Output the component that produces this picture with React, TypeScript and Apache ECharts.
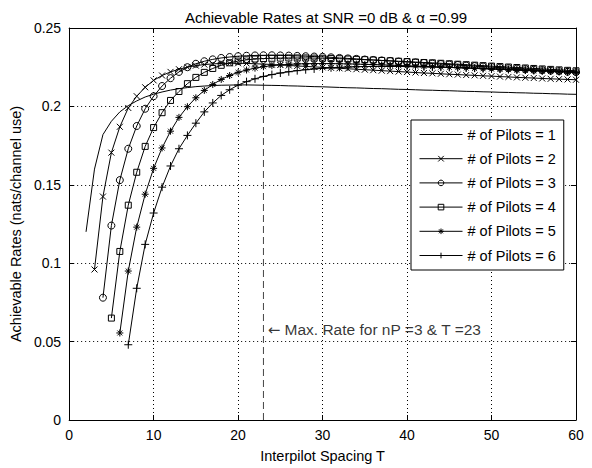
import React, { useEffect, useRef } from "react";
import * as echarts from "echarts";

const pilotNames = [
  "# of Pilots = 1",
  "# of Pilots = 2",
  "# of Pilots = 3",
  "# of Pilots = 4",
  "# of Pilots = 5",
  "# of Pilots = 6",
];

// first interpilot spacing T of each curve
const startT = [2, 3, 4, 5, 6, 7];

// rates for T = start .. 60
const rates1 = [
  0.12, 0.16, 0.182, 0.1905, 0.1965, 0.2005, 0.2035, 0.206, 0.2078, 0.2092,
  0.2104, 0.2113, 0.212, 0.2126, 0.213, 0.2133, 0.2135, 0.2136, 0.2137, 0.2137,
  0.2136, 0.2135, 0.2134, 0.2133, 0.2131, 0.213, 0.2128, 0.2126, 0.2125, 0.2123,
  0.2121, 0.2119, 0.2118, 0.2116, 0.2114, 0.2113, 0.2111, 0.2109, 0.2108, 0.2106,
  0.2104, 0.2103, 0.2101, 0.21, 0.2098, 0.2096, 0.2095, 0.2093, 0.2092, 0.209,
  0.2089, 0.2087, 0.2086, 0.2084, 0.2083, 0.2081, 0.208, 0.2078, 0.2077,
];
const rates2 = [
  0.096, 0.1425, 0.1705, 0.187, 0.199, 0.2065, 0.2122, 0.2166, 0.2197, 0.222,
  0.2237, 0.225, 0.226, 0.2267, 0.2271, 0.2274, 0.2275, 0.2275, 0.2274, 0.2272,
  0.227, 0.2267, 0.2264, 0.2261, 0.2258, 0.2255, 0.2252, 0.2249, 0.2246, 0.2243,
  0.224, 0.2237, 0.2234, 0.2231, 0.2228, 0.2225, 0.2222, 0.2219, 0.2216, 0.2213,
  0.2211, 0.2208, 0.2205, 0.2203, 0.22, 0.2198, 0.2195, 0.2193, 0.219, 0.2188,
  0.2185, 0.2183, 0.2181, 0.2178, 0.2176, 0.2174, 0.2172, 0.217,
];
const rates3 = [
  0.078, 0.124, 0.153, 0.173, 0.1875, 0.1985, 0.2065, 0.213, 0.218, 0.222,
  0.225, 0.2272, 0.2288, 0.23, 0.2309, 0.2315, 0.232, 0.2323, 0.2325, 0.2326,
  0.2326, 0.2325, 0.2324, 0.2322, 0.232, 0.2318, 0.2316, 0.2313, 0.2309, 0.2306,
  0.2303, 0.2299, 0.2296, 0.2293, 0.229, 0.2286, 0.2283, 0.228, 0.2277, 0.2273,
  0.227, 0.2267, 0.2264, 0.226, 0.2257, 0.2254, 0.2251, 0.2247, 0.2244, 0.2241,
  0.2238, 0.2234, 0.2231, 0.2228, 0.2225, 0.2221, 0.2218,
];
const rates4 = [
  0.065, 0.1075, 0.137, 0.158, 0.1745, 0.1865, 0.196, 0.2038, 0.2095, 0.2145,
  0.2185, 0.2217, 0.2242, 0.2262, 0.2278, 0.2289, 0.2297, 0.2302, 0.2305, 0.2307,
  0.2308, 0.2309, 0.2309, 0.2309, 0.2308, 0.2307, 0.2306, 0.2304, 0.2302, 0.23,
  0.2298, 0.2296, 0.2293, 0.2291, 0.2288, 0.2286, 0.2283, 0.228, 0.2278, 0.2275,
  0.2272, 0.2269, 0.2266, 0.2263, 0.226, 0.2257, 0.2254, 0.2251, 0.2248, 0.2245,
  0.2242, 0.2239, 0.2236, 0.2233, 0.223, 0.2227,
];
const rates5 = [
  0.0555, 0.095, 0.123, 0.144, 0.1605, 0.1735, 0.1842, 0.193, 0.1998, 0.2055,
  0.2102, 0.214, 0.2172, 0.2197, 0.2217, 0.2232, 0.2244, 0.2253, 0.226, 0.2265,
  0.2268, 0.2271, 0.2272, 0.2273, 0.2273, 0.2273, 0.2272, 0.2271, 0.227, 0.2268,
  0.2267, 0.2265, 0.2263, 0.2261, 0.2259, 0.2257, 0.2255, 0.2253, 0.2251, 0.2249,
  0.2247, 0.2245, 0.2242, 0.224, 0.2238, 0.2236, 0.2234, 0.2231, 0.2229, 0.2227,
  0.2225, 0.2223, 0.222, 0.2218, 0.2216,
];
const rates6 = [
  0.048, 0.084, 0.112, 0.132, 0.1485, 0.162, 0.173, 0.1815, 0.1893, 0.1965,
  0.2022, 0.207, 0.2106, 0.2136, 0.2158, 0.2176, 0.2191, 0.2203, 0.2213, 0.2221,
  0.2228, 0.2234, 0.2239, 0.2243, 0.2246, 0.2249, 0.2251, 0.2253, 0.2254, 0.2255,
  0.2255, 0.2255, 0.2255, 0.2254, 0.2253, 0.2252, 0.2251, 0.225, 0.2248, 0.2247,
  0.2245, 0.2244, 0.2242, 0.224, 0.2238, 0.2236, 0.2234, 0.2232, 0.223, 0.2228,
  0.2226, 0.2224, 0.2222, 0.222,
];

const allRates = [rates1, rates2, rates3, rates4, rates5, rates6];

// annotation: optimum for nP = 3
const optimumT = 23;
const optimumLineTop = 0.226;
const annotationPos = [23.5, 0.0575];
const annotationArrow = "\u2190";
const annotationText = " Max. Rate for nP =3 & T =23";

const titleText = "Achievable Rates at SNR =0 dB & \u03b1 =0.99";
const xName = "Interpilot Spacing T";
const yName = "Achievable Rates (nats/channel use)";

const FONT = "'Liberation Sans', Arial, Helvetica, sans-serif";

const symbols = [
  "none",
  "path://M0 0L10 10M10 0L0 10",
  "circle",
  "rect",
  "path://M5 0L5 10M0 5L10 5M1.5 1.5L8.5 8.5M8.5 1.5L1.5 8.5",
  "path://M5 0L5 10M0 5L10 5",
];
const symbolSizes = [0, 6, 7, 6, 7, 8];

export default function App() {
  const ref = useRef<HTMLDivElement>(null);

  useEffect(() => {
    if (!ref.current) return;
    document.body.style.margin = "0";
    const chart = echarts.init(ref.current, null, { renderer: "svg" });

    const lineSeries = allRates.map((vals, i) => ({
      name: pilotNames[i],
      type: "line",
      data: vals.map((v, k) => [startT[i] + k, v]),
      symbol: symbols[i],
      symbolSize: symbolSizes[i],
      showSymbol: i !== 0,
      showAllSymbol: true,
      lineStyle: { color: "#000", width: 1 },
      itemStyle: { color: "rgba(0,0,0,0)", borderColor: "#000", borderWidth: 1 },
      emphasis: { disabled: true },
      z: 3,
    }));

    const axisCommonX = { type: "value", min: 0, max: 60, interval: 10 };
    const axisCommonY = { type: "value", min: 0, max: 0.25, interval: 0.05 };
    const gridLine = { show: true, lineStyle: { color: "#000", width: 1, type: [1, 3] } };

    const legendData = pilotNames.map((n, i) =>
      i === 0
        ? { name: n, itemStyle: { color: "rgba(0,0,0,0)", borderColor: "rgba(0,0,0,0)", borderWidth: 0 } }
        : { name: n }
    );

    chart.setOption({
      animation: false,
      backgroundColor: "#fff",
      title: {
        text: titleText,
        left: 321,
        top: 5,
        textAlign: "center",
        textStyle: { fontFamily: FONT, fontSize: 15, fontWeight: "normal", color: "#000" },
      },
      grid: { left: 66, right: 16, top: 28, bottom: 40, containLabel: false },
      legend: {
        data: legendData,
        orient: "vertical",
        left: 411,
        top: 120,
        padding: [7, 8, 7, 8],
        itemWidth: 43,
        itemHeight: 7,
        itemGap: 9.2,
        borderColor: "#000",
        borderWidth: 1,
        borderRadius: 0,
        backgroundColor: "#fff",
        lineStyle: { color: "#000", width: 1 },
        itemStyle: { color: "rgba(0,0,0,0)", borderColor: "#000", borderWidth: 1 },
        textStyle: { fontFamily: FONT, fontSize: 14.5, lineHeight: 14, color: "#000" },
        selectedMode: false,
      },
      xAxis: [
        {
          ...axisCommonX,
          position: "bottom",
          name: xName,
          nameLocation: "middle",
          nameGap: 28,
          nameTextStyle: { fontFamily: FONT, fontSize: 14.5, color: "#000" },
          axisLine: { show: true, onZero: false, lineStyle: { color: "#000", width: 1 } },
          axisTick: { show: true, inside: true, length: 5, lineStyle: { color: "#000" } },
          axisLabel: { fontFamily: FONT, fontSize: 14, color: "#000", margin: 8 },
          splitLine: gridLine,
        },
        {
          ...axisCommonX,
          position: "top",
          axisLine: { show: true, onZero: false, lineStyle: { color: "#000", width: 1 } },
          axisTick: { show: true, inside: true, length: 5, lineStyle: { color: "#000" } },
          axisLabel: { show: false },
          splitLine: { show: false },
        },
      ],
      yAxis: [
        {
          ...axisCommonY,
          position: "left",
          name: yName,
          nameLocation: "middle",
          nameGap: 40,
          nameTextStyle: { fontFamily: FONT, fontSize: 14.5, color: "#000" },
          axisLine: { show: true, onZero: false, lineStyle: { color: "#000", width: 1 } },
          axisTick: { show: true, inside: true, length: 5, lineStyle: { color: "#000" } },
          axisLabel: { fontFamily: FONT, fontSize: 14, color: "#000", margin: 8 },
          splitLine: gridLine,
        },
        {
          ...axisCommonY,
          position: "right",
          axisLine: { show: true, onZero: false, lineStyle: { color: "#000", width: 1 } },
          axisTick: { show: true, inside: true, length: 5, lineStyle: { color: "#000" } },
          axisLabel: { show: false },
          splitLine: { show: false },
        },
      ],
      series: [
        ...lineSeries,
        {
          type: "line",
          data: [
            [optimumT, 0],
            [optimumT, optimumLineTop],
          ],
          symbol: "none",
          lineStyle: { color: "#444", width: 1, type: [7, 4] },
          emphasis: { disabled: true },
          z: 2,
        },
        {
          type: "scatter",
          data: [annotationPos],
          symbolSize: 0,
          itemStyle: { color: "rgba(0,0,0,0)" },
          label: {
            show: true,
            position: "right",
            distance: 0,
            formatter: "{a|" + annotationArrow + "}{b|" + annotationText + "}",
            rich: {
              a: { fontFamily: "'DejaVu Sans', sans-serif", fontSize: 15, color: "#000" },
              b: { fontFamily: FONT, fontSize: 15.5, color: "#000" },
            },
          },
          emphasis: { disabled: true },
          z: 4,
        },
      ],
    });

    return () => chart.dispose();
  }, []);

  return <div ref={ref} style={{ width: 592, height: 468 }} />;
}
